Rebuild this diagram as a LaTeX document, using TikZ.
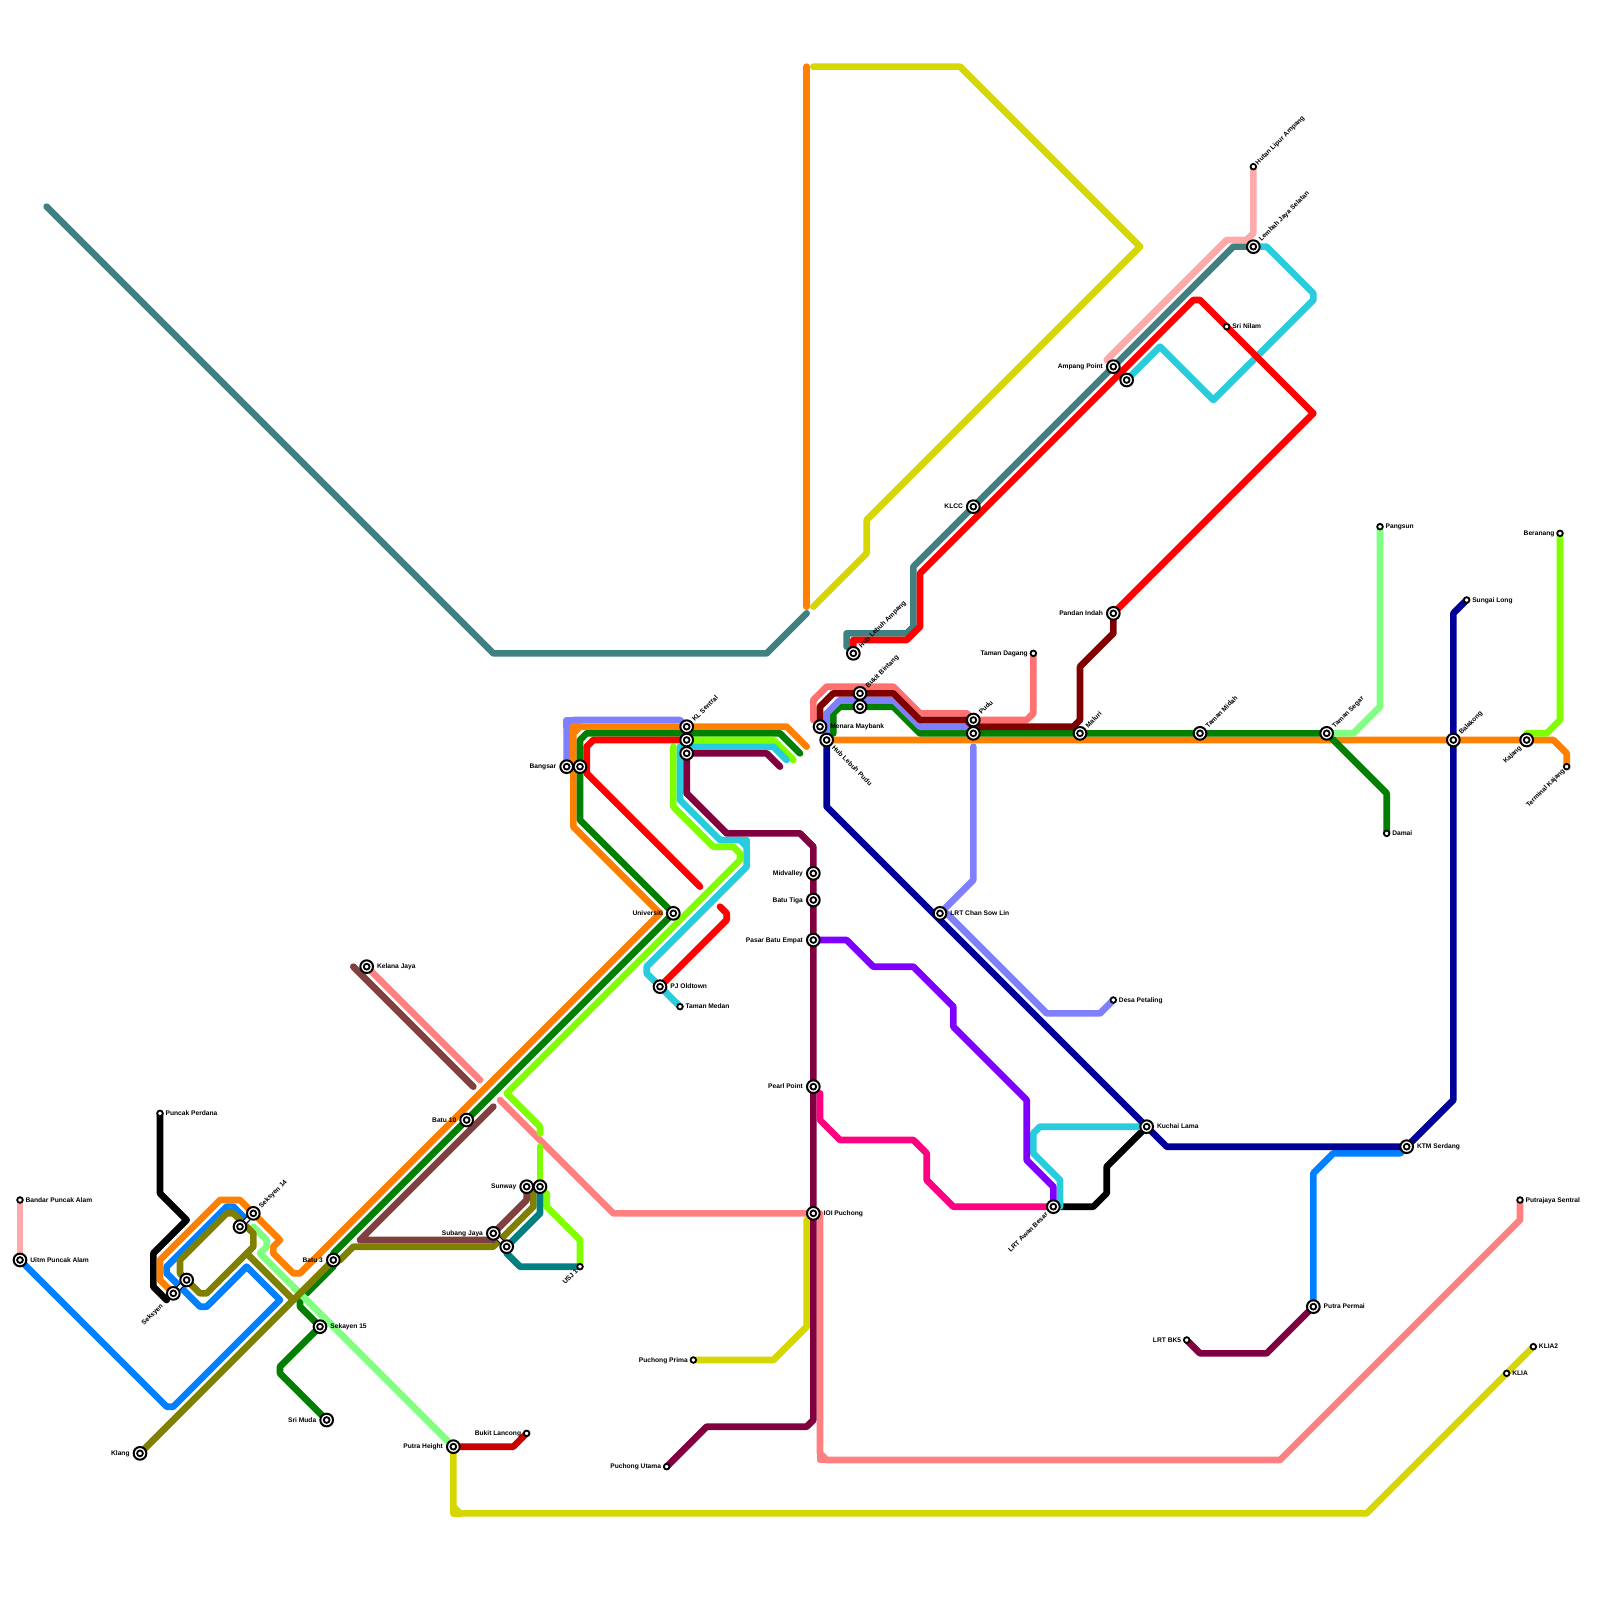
\documentclass[tikz,border=0pt]{standalone}
\usepackage{fontspec}
\setmainfont{Liberation Sans}
\pgfdeclarelayer{lineslayer}
\pgfdeclarelayer{labelslayer}
\pgfsetlayers{lineslayer,labelslayer,main}
\definecolor{cPinkL}{HTML}{FFAAAA}
\definecolor{cBlue}{HTML}{0080FF}
\definecolor{cOrange}{HTML}{FF8000}
\definecolor{cGreen}{HTML}{007F00}
\definecolor{cOlive}{HTML}{808000}
\definecolor{cLGreen}{HTML}{80FF80}
\definecolor{cBrown}{HTML}{804040}
\definecolor{cSalmon}{HTML}{FF8080}
\definecolor{cLime}{HTML}{80FF00}
\definecolor{cCyan}{HTML}{29CCDC}
\definecolor{cMaroon}{HTML}{800040}
\definecolor{cRed}{HTML}{FF0000}
\definecolor{cDRed}{HTML}{800000}
\definecolor{cCoral}{HTML}{FF7070}
\definecolor{cPeri}{HTML}{8080FF}
\definecolor{cNavy}{HTML}{000099}
\definecolor{cPurple}{HTML}{8000FF}
\definecolor{cHot}{HTML}{FF0080}
\definecolor{cTeal}{HTML}{008080}
\definecolor{cSlate}{HTML}{408080}
\definecolor{cYellow}{HTML}{D6D600}
\definecolor{cCrimson}{HTML}{CC0000}
\tikzset{
  ln/.style={line width=3.33pt,line cap=round,line join=round},
  bigst/.style={circle,draw=black,line width=1pt,fill=white,inner sep=0pt,minimum size=6.35pt,
    path picture={\draw[black,line width=.9pt,fill=white] (path picture bounding box.center) circle (1.45pt);}},
  smallst/.style={circle,draw=black,line width=.9pt,fill=white,inner sep=0pt,minimum size=2.8pt},
  lab/.style={font=\bfseries\fontsize{3.33pt}{4pt}\selectfont,inner sep=0pt,text=black},
  lab0/.style={lab,anchor=mid west,yshift=1.5pt},
  lab180/.style={lab,anchor=mid east,yshift=1.5pt},
  lab45/.style={lab,anchor=mid west,rotate=45,yshift=1.5pt,xshift=-.5pt},
  lab225/.style={lab,anchor=mid east,rotate=45,yshift=1.5pt,xshift=.5pt},
  lab-45/.style={lab,anchor=mid west,rotate=-45,yshift=1.5pt,xshift=-.5pt},
}
% [offset]{name}{x}{y}{angle}{text}
\newcommand\stBig[6][5pt]{\node[bigst] (#2) at (#3,#4) {};
  \begin{pgfonlayer}{labelslayer}\node[lab#5] (#2-t) at ([shift={(#5:#1)}]#2.center) {#6};\end{pgfonlayer}}
\newcommand\stSmall[6][2.6pt]{\node[smallst] (#2) at (#3,#4) {};
  \begin{pgfonlayer}{labelslayer}\node[lab#5] (#2-t) at ([shift={(#5:#1)}]#2.center) {#6};\end{pgfonlayer}}
\newcommand\stPlain[3]{\node[bigst] (#1) at (#2,#3) {};}
\newcommand\lk[2]{\draw[line width=2.6pt,black] (#1.center) -- (#2.center); \draw[line width=1.5pt,white] (#1.center) -- (#2.center);}
\begin{document}
\begin{tikzpicture}[x=3.33333pt,y=-3.33333pt]
\useasboundingbox (0,0) rectangle (240,240);
\begin{pgfonlayer}{lineslayer}\fill[white] (0,0) rectangle (240,240);\end{pgfonlayer}
% links drawn under stations
\coordinate (aa) at (26,194); \coordinate (ab) at (28,192);
\coordinate (ac) at (36,184); \coordinate (ad) at (38,182);
\coordinate (ae) at (74,185); \coordinate (af) at (76,187);
\lk{aa}{ab}\lk{ac}{ad}\lk{ae}{af}
% stations
\stSmall{bandar}{3}{180}{0}{Bandar Puncak Alam}
\stBig{uitm}{3}{189}{0}{Uitm Puncak Alam}
\stSmall{perdana}{24}{167}{0}{Puncak Perdana}
\stBig[8.5pt]{seksyenA}{26}{194}{225}{Seksyen}
\stPlain{seksyenB}{28}{192}
\stPlain{sekA}{36}{184}
\stBig{sekB}{38}{182}{45}{Seksyen 14}
\stBig{batuT}{50}{189}{180}{Batu 3}
\stBig{sek15}{48}{199}{0}{Sekayen 15}
\stBig{srimuda}{49}{213}{180}{Sri Muda}
\stBig{klang}{21}{218}{180}{Klang}
\stBig{kelana}{55}{145}{0}{Kelana Jaya}
\stBig{batu10}{70}{168}{180}{Batu 10}
\stBig{subangA}{74}{185}{180}{Subang Jaya}
\stPlain{subangB}{76}{187}
\stBig{sunwayA}{79}{178}{180}{Sunway}
\stPlain{sunwayB}{81}{178}
\stSmall{usj}{87}{190}{225}{USJ 1}
\stBig{bangsarA}{85}{115}{180}{Bangsar}
\stPlain{bangsarB}{87}{115}
\stBig{klsA}{103}{109}{45}{KL Sentral}
\stPlain{klsB}{103}{111}
\stPlain{klsC}{103}{113}
\stBig{univ}{101}{137}{180}{Universiti}
\stBig{pjold}{99}{148}{0}{PJ Oldtown}
\stSmall{medan}{102}{151}{0}{Taman Medan}
\stBig{midv}{122}{131}{180}{Midvalley}
\stBig{batutiga}{122}{135}{180}{Batu Tiga}
\stBig{pasar}{122}{141}{180}{Pasar Batu Empat}
\stBig{pearl}{122}{163}{180}{Pearl Point}
\stBig{ioi}{122}{182}{0}{IOI Puchong}
\stBig{awan}{158}{181}{225}{LRT Awan Besar}
\stBig{menara}{123}{109}{0}{Menara Maybank}
\stBig{hubpudu}{124}{111}{-45}{Hub Lebuh Pudu}
\stBig{hubamp}{128}{98}{45}{Hub Lebuh Ampang}
\stBig{bukitA}{129}{104}{45}{Bukit Bintang}
\stPlain{bukitB}{129}{106}
\stBig{puduA}{146}{108}{45}{Pudu}
\stPlain{puduB}{146}{110}
\stSmall{dagang}{155}{98}{180}{Taman Dagang}
\stBig{maluri}{162}{110}{45}{Maluri}
\stBig{midah}{180}{110}{45}{Taman Midah}
\stBig{segar}{199}{110}{45}{Taman Segar}
\stBig{balakong}{218}{111}{45}{Balakong}
\stBig{kajang}{229}{111}{225}{Kajang}
\stSmall{tkajang}{235}{115}{225}{Terminal Kajang}
\stSmall{pangsun}{207}{79}{0}{Pangsun}
\stSmall{beranang}{234}{80}{180}{Beranang}
\stSmall{sungai}{220}{90}{0}{Sungai Long}
\stSmall{damai}{208}{125}{0}{Damai}
\stBig{klcc}{146}{76}{180}{KLCC}
\stBig{ampA}{167}{55}{180}{Ampang Point}
\stPlain{ampB}{169}{57}
\stSmall{nilam}{184}{49}{0}{Sri Nilam}
\stBig{lembah}{188}{37}{45}{Lembah Jaya Selatan}
\stSmall{hutan}{188}{25}{45}{Hutan Lipur Ampang}
\stBig{pandan}{167}{92}{180}{Pandan Indah}
\stBig{chan}{141}{137}{0}{LRT Chan Sow Lin}
\stSmall{desa}{167}{150}{0}{Desa Petaling}
\stBig{kuchai}{172}{169}{0}{Kuchai Lama}
\stBig{ktm}{211}{172}{0}{KTM Serdang}
\stBig{permai}{197}{196}{0}{Putra Permai}
\stSmall{bks}{178}{201}{180}{LRT BK5}
\stSmall{putrajaya}{228}{180}{0}{Putrajaya Sentral}
\stSmall{kliaT}{230}{202}{0}{KLIA2}
\stSmall{klia}{226}{206}{0}{KLIA}
\stSmall{pprima}{104}{204}{180}{Puchong Prima}
\stSmall{putama}{100}{220}{180}{Puchong Utama}
\stBig{height}{68}{217}{180}{Putra Height}
\stSmall{lancong}{79}{215}{180}{Bukit Lancong}
\begin{pgfonlayer}{lineslayer}
% slate
\draw[ln,cSlate] (7,31) -- (74,98) -- (115,98) -- (121,92);
\draw[ln,cSlate] (127,97) -- (127,95) -- (136,95) -- (137,94) -- (137,85) -- (klcc.center) -- (ampA.center) -- (185,37) -- (lembah.center);
% yellow
\draw[ln,cYellow] (122,10) -- (144,10) -- (171,37) -- (130,78) -- (130,83) -- (122,91);
\draw[ln,cYellow] (pprima.center) -- (116,204) -- (121,199) -- (121,183);
\draw[ln,cYellow] (height.center) -- (68,226) -- (69,227) -- (205,227) -- (kliaT.center);
\draw[ln,cYellow] (68,226) -- (68,227) -- (69,227);
% light pink
\draw[ln,cPinkL] (bandar.center) -- (uitm.center);
\draw[ln,cPinkL] (hutan.center) -- (188,35) -- (187,36) -- (184,36) -- (166,54);
% orange vertical
\draw[ln,cOrange] (121,10) -- (121,91);
% black
\draw[ln,black] (perdana.center) -- (24,179) -- (28,183) -- (23,188) -- (23,193) -- (25,195);
\draw[ln,black] (awan.center) -- (164,181) -- (166,179) -- (166,175) -- (kuchai.center);
% blue
\draw[ln,cBlue] (uitm.center) -- (25,211) -- (26,211) -- (42,195) -- (37,190) -- (31,196) -- (30,196) -- (25,191) -- (25,190) -- (34,181) -- (35,181) -- (37,183);
\draw[ln,cBlue] (permai.center) -- (197,176) -- (200,173) -- (210,173) -- (ktm.center);
% periwinkle, first branch
\draw[ln,cPeri] (bangsarA.center) -- (85,109) -- (86,108) -- (102,108) -- (klsA.center);
\draw[ln,cPeri] (85,109) -- (85,108) -- (86,108);
% orange
\draw[ln,cOrange] (seksyenA.center) -- (24,192) -- (24,189) -- (33,180) -- (36,180) -- (42,186) -- (41,187) -- (41,188) -- (44,191) -- (45,191) -- (99,137) -- (86,124) -- (86,110) -- (87,109) -- (118,109) -- (121,112);
\draw[ln,cOrange] (86,110) -- (86,109) -- (87,109);
\draw[ln,cOrange] (hubpudu.center) -- (233,111) -- (235,113) -- (tkajang.center);
% green
\draw[ln,cGreen] (srimuda.center) -- (42,206) -- (42,205) -- (sek15.center) -- (45,196) -- (45,195);
\draw[ln,cGreen] (46,194) -- (50,190) -- (50,188) -- (100,138) -- (univ.center) -- (87,123) -- (87,111) -- (88,110) -- (117,110) -- (120,113);
\draw[ln,cGreen] (125,110) -- (125,107) -- (126,106) -- (134,106) -- (138,110) -- (segar.center) -- (208,119) -- (damai.center);
% light green
\draw[ln,cLGreen] (38,184) -- (40,186) -- (40,187) -- (39,188) -- (height.center);
\draw[ln,cLGreen] (segar.center) -- (203,110) -- (207,106) -- (pangsun.center);
% olive
\draw[ln,cOlive] (klang.center) -- (50,189) -- (51,189) -- (53,187) -- (74,187) -- (80,181) -- (80,178);
\draw[ln,cOlive] (44,195) -- (37,188) -- (31,194) -- (30,194) -- (seksyenB.center) -- (27,191) -- (27,189) -- (34,182) -- (35,182) -- (38,185) -- (38,187) -- (37,188);
% brown
\draw[ln,cBrown] (53,145) -- (71,163);
\draw[ln,cBrown] (74,166) -- (54,186) -- (74,186) -- (74,185) -- (79,180) -- (79,178);
% salmon
\draw[ln,cSalmon] (kelana.center) -- (72,162);
\draw[ln,cSalmon] (75,165) -- (92,182) -- (ioi.center);
\draw[ln,cSalmon] (123,182) -- (123,218) -- (124,219) -- (192,219) -- (228,183) -- (putrajaya.center);
\draw[ln,cSalmon] (123,218) -- (123,219) -- (124,219);
% lime
\draw[ln,cLime] (usj.center) -- (87,186) -- (82,181) -- (82,179);
\draw[ln,cLime] (81,178) -- (81,172);
\draw[ln,cLime] (81,170) -- (81,169) -- (76,164) -- (111,129) -- (111,128) -- (110,127) -- (107,127) -- (101,121) -- (101,112);
\draw[ln,cLime] (103,111) -- (116,111) -- (119,114);
\draw[ln,cLime] (229,110) -- (232,110) -- (234,108) -- (beranang.center);
% cyan
\draw[ln,cCyan] (medan.center) -- (97,146) -- (97,145) -- (112,130) -- (112,127) -- (111,126) -- (108,126) -- (102,120) -- (102,112) -- (116,112) -- (118,114);
\draw[ln,cCyan] (112,127) -- (112,126) -- (111,126);
\draw[ln,cCyan] (lembah.center) -- (190,37) -- (197,44) -- (197,45) -- (182,60) -- (174,52) -- (ampB.center);
\draw[ln,cCyan] (kuchai.center) -- (156,169) -- (155,170) -- (155,173) -- (159,177) -- (159,181);
% maroon
\draw[ln,cMaroon] (klsC.center) -- (115,113) -- (117,115);
\draw[ln,cMaroon] (klsC.center) -- (103,119) -- (109,125) -- (120,125) -- (122,127) -- (122,213) -- (121,214) -- (106,214) -- (putama.center);
\draw[ln,cMaroon] (bks.center) -- (180,203) -- (190,203) -- (permai.center);
% red
\draw[ln,cRed] (105,133) -- (88,116) -- (88,112) -- (89,111) -- (klsB.center);
\draw[ln,cRed] (108,136) -- (109,137) -- (109,138) -- (pjold.center);
\draw[ln,cRed] (128,98) -- (128,96) -- (136,96) -- (138,94) -- (138,86) -- (179,45) -- (180,45) -- (197,62) -- (pandan.center);
% coral
\draw[ln,cCoral] (122,108) -- (122,105) -- (124,103) -- (134,103) -- (138,107) -- (145,107) -- (146,108) -- (154,108) -- (155,107) -- (dagang.center);
% navy
\draw[ln,cNavy] (hubpudu.center) -- (124,121) -- (175,172) -- (ktm.center) -- (218,165) -- (218,92) -- (sungai.center);
% periwinkle, other branches
\draw[ln,cPeri] (hubpudu.center) -- (124,107) -- (126,105) -- (134,105) -- (138,109) -- (146,109) -- (puduB.center);
\draw[ln,cPeri] (146,112) -- (146,132) -- (141,137) -- (142,137) -- (157,152) -- (165,152) -- (desa.center);
% dark red
\draw[ln,cDRed] (menara.center) -- (123,106) -- (125,104) -- (134,104) -- (138,108) -- (145,108) -- (146,109) -- (161,109) -- (162,108) -- (162,100) -- (167,95) -- (pandan.center);
% purple
\draw[ln,cPurple] (pasar.center) -- (127,141) -- (131,145) -- (137,145) -- (143,151) -- (143,154) -- (154,165) -- (154,174) -- (158,178) -- (awan.center);
% hot pink
\draw[ln,cHot] (123,164) -- (123,168) -- (126,171) -- (137,171) -- (139,173) -- (139,177) -- (143,181) -- (awan.center);
% teal
\draw[ln,cTeal] (sunwayB.center) -- (81,182) -- (subangB.center) -- (76,188) -- (78,190) -- (usj.center);
% crimson
\draw[ln,cCrimson] (height.center) -- (77,217) -- (lancong.center);
\end{pgfonlayer}
\end{tikzpicture}
\end{document}
